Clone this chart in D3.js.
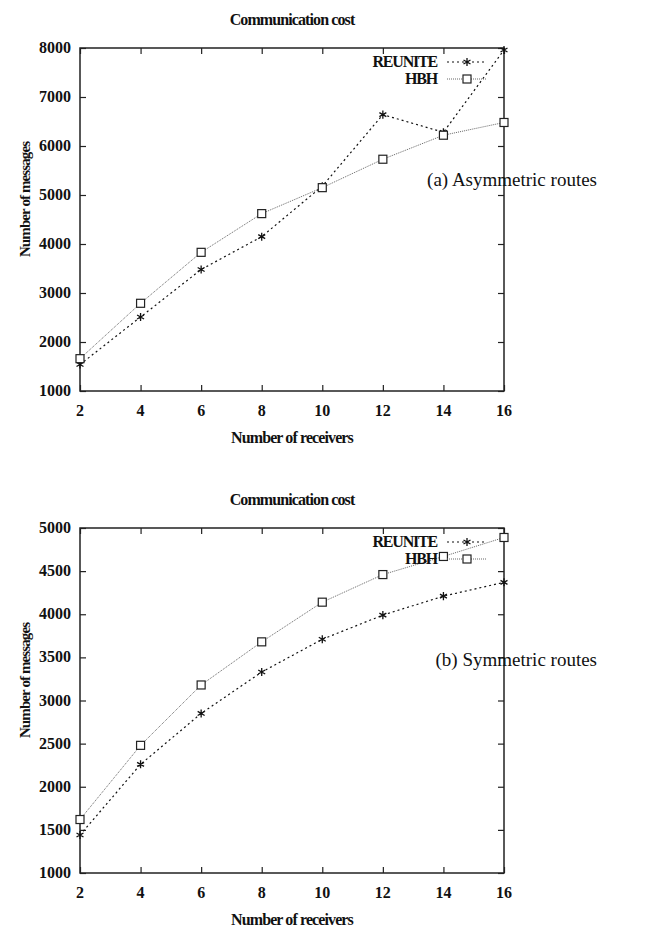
<!DOCTYPE html>
<html>
<head>
<meta charset="utf-8">
<script src="https://cdn.jsdelivr.net/npm/d3@7"></script>
<style>
  body { margin: 0; background: #fff; }
  text { font-family: "Liberation Serif", "Times New Roman", serif; fill: #111; }
</style>
</head>
<body>
<div id="vis"></div>
<script>
// data
const receivers = [2, 4, 6, 8, 10, 12, 14, 16];
const reuniteAsym = [1540, 2510, 3480, 4150, 5180, 6640, 6280, 7960];
const hbhAsym = [1660, 2790, 3830, 4620, 5150, 5730, 6220, 6480];
const reuniteSym = [1440, 2260, 2850, 3330, 3710, 3990, 4210, 4370];
const hbhSym = [1620, 2480, 3180, 3680, 4140, 4460, 4670, 4890];
const yTicksAsym = [1000, 2000, 3000, 4000, 5000, 6000, 7000, 8000];
const yTicksSym = [1000, 1500, 2000, 2500, 3000, 3500, 4000, 4500, 5000];

const FRAME_WIDTH = 650;
const FRAME_HEIGHT = 929;
const LEFT = 80, RIGHT = 504;
const TICK = 6;

const FRAME = d3.select("#vis")
  .append("svg")
    .attr("width", FRAME_WIDTH)
    .attr("height", FRAME_HEIGHT);

function drawPanel(top, bottom, yTicks, reunite, hbh, note, noteY) {
  const x = d3.scaleLinear().domain([2, 16]).range([LEFT, RIGHT]);
  const y = d3.scaleLinear().domain([yTicks[0], yTicks[yTicks.length - 1]]).range([bottom, top]);
  const g = FRAME.append("g");

  // ticks pointing inwards on all four sides
  g.append("g").attr("transform", `translate(0,${bottom})`)
    .call(d3.axisTop(x).tickValues(receivers).tickSize(TICK).tickFormat(""));
  g.append("g").attr("transform", `translate(0,${top})`)
    .call(d3.axisBottom(x).tickValues(receivers).tickSize(TICK).tickFormat(""));
  g.append("g").attr("transform", `translate(${LEFT},0)`)
    .call(d3.axisRight(y).tickValues(yTicks).tickSize(TICK).tickFormat(""));
  g.append("g").attr("transform", `translate(${RIGHT},0)`)
    .call(d3.axisLeft(y).tickValues(yTicks).tickSize(TICK).tickFormat(""));
  g.selectAll(".domain").remove();
  g.selectAll(".tick line").attr("stroke", "#222").attr("stroke-width", 1.2);

  g.append("rect")
    .attr("x", LEFT).attr("y", top)
    .attr("width", RIGHT - LEFT).attr("height", bottom - top)
    .attr("fill", "none").attr("stroke", "#222").attr("stroke-width", 1.5);

  // tick labels
  g.selectAll(".xl").data(receivers).enter().append("text")
    .attr("x", d => x(d)).attr("y", bottom + 25)
    .attr("text-anchor", "middle")
    .attr("font-size", 16).attr("font-weight", "bold")
    .text(d => d);
  g.selectAll(".yl").data(yTicks).enter().append("text")
    .attr("x", LEFT - 9).attr("y", d => y(d) + 5)
    .attr("text-anchor", "end")
    .attr("font-size", 16).attr("font-weight", "bold")
    .text(d => d);

  // titles
  g.append("text").attr("x", 292).attr("y", top - 23)
    .attr("text-anchor", "middle").attr("font-size", 16).attr("font-weight", "bold")
    .attr("letter-spacing", -0.9)
    .text("Communication cost");
  g.append("text").attr("x", 292).attr("y", bottom + 52)
    .attr("text-anchor", "middle").attr("font-size", 16).attr("font-weight", "bold")
    .attr("letter-spacing", -0.9)
    .text("Number of receivers");
  g.append("text")
    .attr("transform", `translate(30,${(top + bottom) / 2 - 20}) rotate(-90)`)
    .attr("text-anchor", "middle").attr("font-size", 15).attr("font-weight", "bold")
    .attr("letter-spacing", -0.9)
    .text("Number of messages");

  g.append("text").attr("x", 597).attr("y", noteY + 6)
    .attr("text-anchor", "end").attr("font-size", 19)
    .attr("fill", "#333")
    .text(note);

  const line = d3.line().x((d, i) => x(receivers[i])).y(d => y(d));

  // HBH series
  g.append("path").datum(hbh).attr("d", line)
    .attr("fill", "none").attr("stroke", "#666").attr("stroke-width", 1)
    .attr("stroke-dasharray", "1,1");
  // REUNITE series
  g.append("path").datum(reunite).attr("d", line)
    .attr("fill", "none").attr("stroke", "#111").attr("stroke-width", 1.2)
    .attr("stroke-dasharray", "2,3");

  const star = d3.symbol().type(d3.symbolAsterisk).size(45);
  g.selectAll(".star").data(reunite).enter().append("path")
    .attr("d", star)
    .attr("transform", (d, i) => `translate(${x(receivers[i])},${y(d)})`)
    .attr("fill", "none").attr("stroke", "#111").attr("stroke-width", 1.3);
  g.selectAll(".sq").data(hbh).enter().append("rect")
    .attr("x", (d, i) => x(receivers[i]) - 4).attr("y", d => y(d) - 4)
    .attr("width", 8).attr("height", 8)
    .attr("fill", "#fff").attr("stroke", "#222").attr("stroke-width", 1.2);

  // legend
  const legY = top + 14;
  g.append("text").attr("x", 437).attr("y", legY + 5)
    .attr("text-anchor", "end").attr("font-size", 16).attr("font-weight", "bold")
    .attr("letter-spacing", -1.2)
    .text("REUNITE");
  g.append("line").attr("x1", 447).attr("x2", 486).attr("y1", legY).attr("y2", legY)
    .attr("stroke", "#111").attr("stroke-width", 1.2).attr("stroke-dasharray", "2,3");
  g.append("path").attr("d", star).attr("transform", `translate(467,${legY})`)
    .attr("fill", "none").attr("stroke", "#111").attr("stroke-width", 1.3);
  g.append("text").attr("x", 437).attr("y", legY + 22)
    .attr("text-anchor", "end").attr("font-size", 16).attr("font-weight", "bold")
    .attr("letter-spacing", -1.2)
    .text("HBH");
  g.append("line").attr("x1", 447).attr("x2", 486).attr("y1", legY + 17).attr("y2", legY + 17)
    .attr("stroke", "#666").attr("stroke-width", 1).attr("stroke-dasharray", "1,1");
  g.append("rect").attr("x", 463).attr("y", legY + 13).attr("width", 8).attr("height", 8)
    .attr("fill", "#fff").attr("stroke", "#222").attr("stroke-width", 1.2);
}

drawPanel(48, 391, yTicksAsym, reuniteAsym, hbhAsym, "(a) Asymmetric routes", 180);
drawPanel(528, 873, yTicksSym, reuniteSym, hbhSym, "(b) Symmetric routes", 660);
</script>
</body>
</html>
